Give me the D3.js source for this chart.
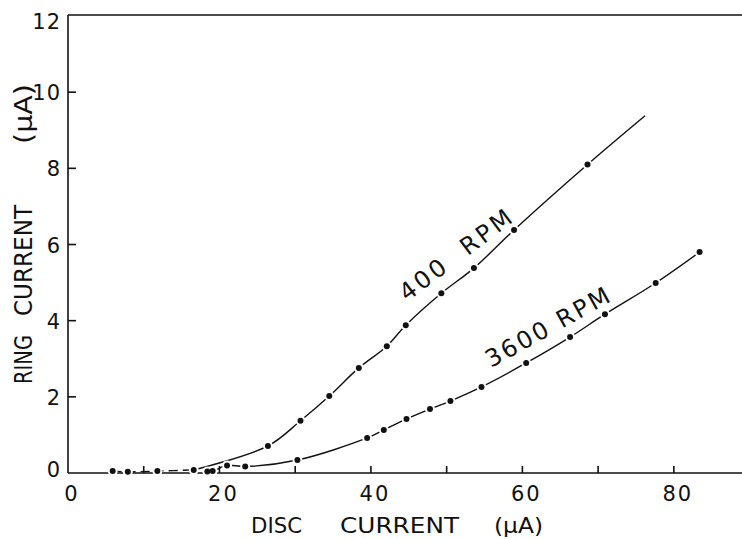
<!DOCTYPE html>
<html>
<head>
<meta charset="utf-8">
<script src="https://cdn.jsdelivr.net/npm/d3@7"></script>
<style>
  html, body { margin: 0; padding: 0; background: #fff; }
  svg text { font-family: "DejaVu Sans", "Liberation Sans", sans-serif; fill: #111; }
</style>
</head>
<body>
<svg id="chart" width="742" height="539"></svg>
<script>
// disc current (uA) vs ring current (uA)
const baseline = [[5.9, 0.05], [7.9, 0.03], [11.8, 0.05], [16.6, 0.08]];
const rpm400 = [[16.6, 0.08], [26.4, 0.71], [30.7, 1.37], [34.5, 2.02], [38.4, 2.76], [42.1, 3.33],
  [44.6, 3.88], [49.3, 4.72], [53.6, 5.38], [58.9, 6.38], [68.6, 8.1]];
const rpm400End = [76.2, 9.38];
const rpm3600 = [[18.4, 0.04], [19.1, 0.05], [21.0, 0.2], [23.4, 0.17], [30.3, 0.34], [39.5, 0.92],
  [41.7, 1.13], [44.7, 1.42], [47.8, 1.68], [50.5, 1.89], [54.6, 2.26], [60.5, 2.89],
  [66.3, 3.57], [70.9, 4.17], [77.6, 4.99], [83.4, 5.8]];
const xTicks = [10, 20, 30, 40, 50, 60, 70, 80];
const xTickLabels = [0, 20, 40, 60, 80];
const yTicks = [2, 4, 6, 8, 10];
const yTickLabels = [0, 2, 4, 6, 8, 10, 12];
// word, start, length
const xTitleWords = [['DISC', 251, 51], ['CURRENT', 340, 119], ['(\u00b5A)', 494, 49]];
const yTitleWords = [['RING', 384, 49], ['CURRENT', 316, 111], ['(\u00b5A)', 144, 60]];

const svg = d3.select('#chart');
const x = d3.scaleLinear().domain([0, 89]).range([68, 742]);
const y = d3.scaleLinear().domain([0, 12]).range([473, 16]);

// frame: left, bottom, top
const frame = svg.append('g').attr('stroke', '#111').attr('stroke-width', 1.6).attr('fill', 'none');
frame.append('line').attr('x1', x(0)).attr('x2', x(0)).attr('y1', y(12) - 1).attr('y2', y(0));
frame.append('line').attr('x1', x(0)).attr('x2', x(89)).attr('y1', y(0)).attr('y2', y(0));
frame.append('line').attr('x1', x(0)).attr('x2', x(89)).attr('y1', y(12) - 1).attr('y2', y(12) - 1);

frame.selectAll('line.xt').data(xTicks).enter().append('line').attr('class', 'xt')
  .attr('x1', d => x(d)).attr('x2', d => x(d)).attr('y1', y(0)).attr('y2', y(0) - 7);
frame.selectAll('line.yt').data(yTicks).enter().append('line').attr('class', 'yt')
  .attr('x1', x(0)).attr('x2', x(0) + 8).attr('y1', d => y(d)).attr('y2', d => y(d));

svg.selectAll('text.xl').data(xTickLabels).enter().append('text').attr('class', 'xl')
  .attr('x', d => x(d) + 4).attr('y', 501)
  .attr('text-anchor', 'middle').attr('font-size', 21).attr('letter-spacing', 2)
  .text(d => d);
svg.selectAll('text.yl').data(yTickLabels).enter().append('text').attr('class', 'yl')
  .attr('x', 61).attr('y', d => y(d) + 8 - (d === 0 ? 4 : 0) + (d === 12 ? 5 : 0))
  .attr('text-anchor', 'end').attr('font-size', 21).attr('letter-spacing', 1)
  .text(d => d);

svg.selectAll('text.xtitle').data(xTitleWords).enter().append('text').attr('class', 'xtitle')
  .attr('x', d => d[1]).attr('y', 533).attr('font-size', 21)
  .attr('textLength', d => d[2]).attr('lengthAdjust', 'spacingAndGlyphs')
  .text(d => d[0]);
svg.selectAll('text.ytitle').data(yTitleWords).enter().append('text').attr('class', 'ytitle')
  .attr('transform', d => `translate(32,${d[1]}) rotate(-90)`)
  .attr('font-size', 24)
  .attr('textLength', d => d[2]).attr('lengthAdjust', 'spacingAndGlyphs')
  .text(d => d[0]);

// curves
const line = d3.line().x(d => x(d[0])).y(d => y(d[1])).curve(d3.curveCatmullRom);
const curves = svg.append('g').attr('fill', 'none').attr('stroke', '#111').attr('stroke-width', 1.4);
curves.append('path').attr('d', line(baseline)).attr('stroke-dasharray', '9,5');
curves.append('path').attr('d', line(rpm400.concat([rpm400End])));
curves.append('path').attr('d', line(rpm3600));

// dots with small white gap in the line around each
const allDots = baseline.slice(0, 3).concat(rpm400, rpm3600);
svg.append('g').selectAll('circle.halo').data(allDots).enter().append('circle')
  .attr('cx', d => x(d[0])).attr('cy', d => y(d[1])).attr('r', 5).attr('fill', '#fff');
svg.append('g').selectAll('circle.dot').data(allDots).enter().append('circle')
  .attr('cx', d => x(d[0])).attr('cy', d => y(d[1])).attr('r', 3).attr('fill', '#111');

// series labels along the curves
svg.append('text').attr('transform', 'translate(407,302) rotate(-37)')
  .attr('font-size', 24).attr('letter-spacing', 3).attr('xml:space', 'preserve')
  .text('400  RPM');
svg.append('text').attr('transform', 'translate(491,368) rotate(-29)')
  .attr('font-size', 24).attr('letter-spacing', 2.5).attr('xml:space', 'preserve')
  .text('3600 RPM');
</script>
</body>
</html>
